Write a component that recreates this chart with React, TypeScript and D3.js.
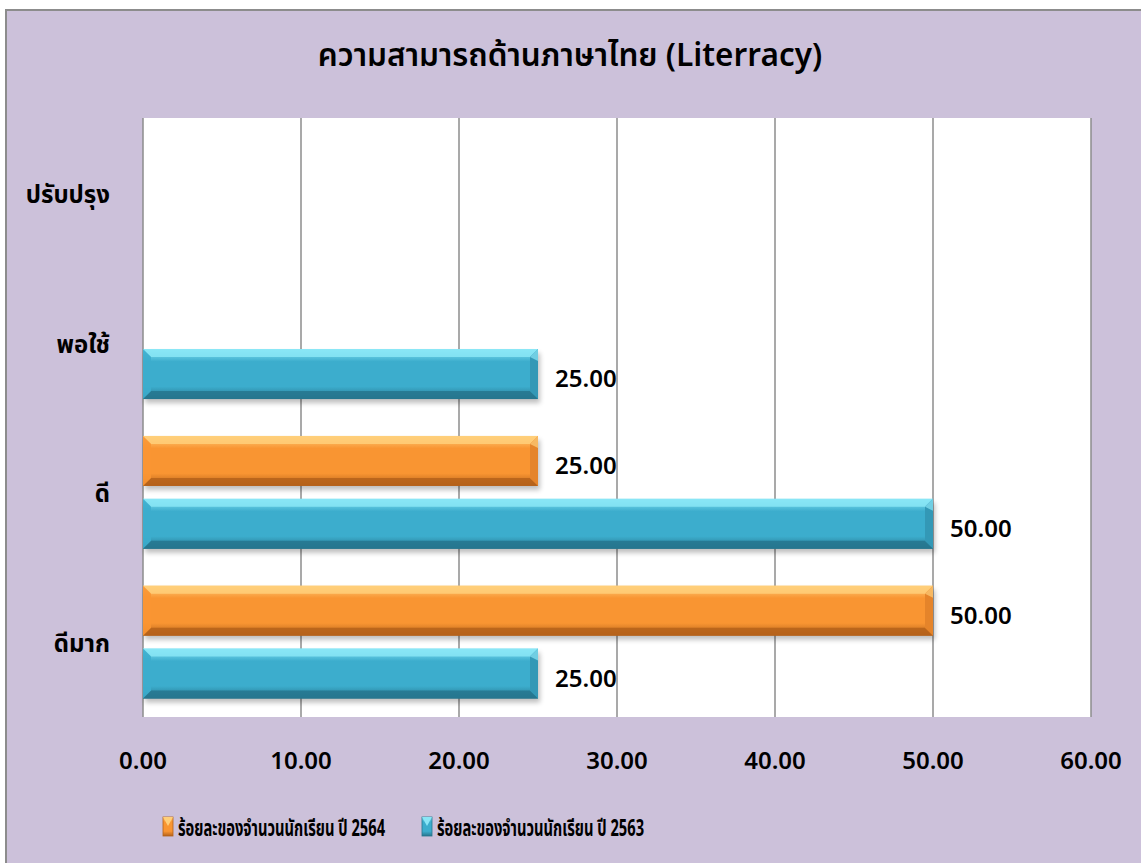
import React, { useLayoutEffect, useRef, useState } from "react";
import { scaleLinear, scaleBand } from "d3";

const title = "ความสามารถด้านภาษาไทย (Literracy)";
const categories = ["ปรับปรุง", "พอใช้", "ดี", "ดีมาก"];
const seriesNames = ["ร้อยละของจำนวนนักเรียน ปี 2564", "ร้อยละของจำนวนนักเรียน ปี 2563"];
const values2564: (number | null)[] = [null, null, 25, 50];
const values2563: (number | null)[] = [null, 25, 50, 25];
const xTicks = [0, 10, 20, 30, 40, 50, 60];

const W = 1141;
const H = 863;
const FONT = "Tahoma, 'Noto Sans Thai', 'Leelawadee UI', 'DejaVu Sans', sans-serif";
const LEGEND_TEXT_W = 207;

const palette = [
  { light: "#ffcf7a", base: "#f99532", dark: "#b5621a", cap: "#e5842a", id: "org" },
  { light: "#8ae6f6", base: "#3cadcd", dark: "#26768e", cap: "#3398b6", id: "blu" },
];

const App = () => {
  const plot = { left: 143, right: 1091, top: 118, bottom: 717 };
  const legendRefs = useRef<(SVGTextElement | null)[]>([]);
  const [legendScale, setLegendScale] = useState<number[]>([0.64, 0.64]);

  useLayoutEffect(() => {
    const s = legendRefs.current.map((el) => {
      if (!el) return 0.64;
      const w = el.getComputedTextLength();
      return w > 0 ? LEGEND_TEXT_W / w : 0.64;
    });
    setLegendScale(s);
  }, []);

  const xScale = scaleLinear().domain([0, 60]).range([plot.left, plot.right]);
  const yScale = scaleBand<string>().domain(categories).range([plot.top, plot.bottom]);
  const inner = scaleBand<number>()
    .domain([0, 1])
    .range([0, yScale.bandwidth()])
    .paddingInner(0.206)
    .paddingOuter(0.293);

  const series = [values2564, values2563];
  const bev = 8;

  const bars = series.flatMap((vals, si) =>
    vals.map((v, ci) => {
      if (v == null) return null;
      const c = palette[si];
      const x0 = xScale(0);
      const x1 = xScale(v);
      const y0 = (yScale(categories[ci]) ?? 0) + (inner(si) ?? 0);
      const h = inner.bandwidth();
      const y1 = y0 + h;
      return (
        <g key={`${si}-${ci}`}>
          <rect x={x0 + 2} y={y0 + 4} width={x1 - x0} height={h} fill="#000" opacity={0.25} filter="url(#shadow)" />
          <rect x={x0} y={y0} width={x1 - x0} height={h} fill={`url(#grad-${c.id})`} />
          <polygon points={`${x0},${y0} ${x1},${y0} ${x1 - bev},${y0 + bev} ${x0 + bev},${y0 + bev}`} fill={c.light} opacity={0.85} />
          <polygon points={`${x0},${y1} ${x1},${y1} ${x1 - bev},${y1 - bev} ${x0 + bev},${y1 - bev}`} fill={c.dark} opacity={0.85} />
          <polygon points={`${x1},${y0} ${x1},${y1} ${x1 - bev},${y1 - bev} ${x1 - bev},${y0 + bev}`} fill={c.cap} />
          <polygon points={`${x1},${y0} ${x1 - bev},${y0 + bev} ${x1},${y0 + bev + 4}`} fill={c.light} opacity={0.7} />
          <polygon points={`${x0},${y0} ${x0},${y1} ${x0 + bev},${y1 - bev} ${x0 + bev},${y0 + bev}`} fill={c.base} opacity={0.9} />
          <text x={x1 + 17} y={y0 + h / 2 + 13} fontSize={24} fontWeight={600} fill="#000" fontFamily={FONT}>
            {v.toFixed(2)}
          </text>
        </g>
      );
    })
  );

  const gridlines = xTicks.map((t) => (
    <g key={t}>
      <line x1={xScale(t)} x2={xScale(t)} y1={plot.top} y2={plot.bottom} stroke="#8c8c8c" strokeWidth={1.5} />
      <text x={xScale(t)} y={769} textAnchor="middle" fontSize={24} fontWeight={600} fontFamily={FONT} fill="#000">
        {t.toFixed(2)}
      </text>
    </g>
  ));

  const catLabels = categories.map((c) => (
    <text
      key={c}
      x={110}
      y={(yScale(c) ?? 0) + yScale.bandwidth() / 2 + 10}
      textAnchor="end"
      fontSize={24}
      fontWeight="bold"
      fontFamily={FONT}
      fill="#000"
    >
      {c}
    </text>
  ));

  const legendX = [163, 422];
  const legend = seriesNames.map((name, i) => (
    <g key={name}>
      <rect x={legendX[i]} y={817} width={10} height={19} fill={`url(#grad-${palette[i].id})`} stroke={palette[i].dark} strokeWidth={0.8} />
      <polygon
        points={`${legendX[i]},${817} ${legendX[i] + 10},${817} ${legendX[i] + 5},${826}`}
        fill={palette[i].light}
      />
      <text
        ref={(el) => {
          legendRefs.current[i] = el;
        }}
        transform={`translate(${legendX[i] + 15},836) scale(${legendScale[i]},1)`}
        fontSize={23}
        fontWeight="bold"
        fontFamily={FONT}
        fill="#000"
      >
        {name}
      </text>
    </g>
  ));

  return (
    <svg width={W} height={H} style={{ position: "absolute", left: 0, top: 0 }}>
      <defs>
        {palette.map((c) => (
          <linearGradient key={c.id} id={`grad-${c.id}`} x1="0" y1="0" x2="0" y2="1">
            <stop offset="0" stopColor={c.light} />
            <stop offset="0.25" stopColor={c.base} />
            <stop offset="0.75" stopColor={c.base} />
            <stop offset="1" stopColor={c.dark} />
          </linearGradient>
        ))}
        <filter id="shadow" x="-5%" y="-30%" width="110%" height="160%">
          <feGaussianBlur stdDeviation={2.5} />
        </filter>
      </defs>
      <rect x={6} y={10} width={W} height={H} fill="#ccc1da" stroke="#8c8c8c" strokeWidth={2} />
      <rect x={plot.left} y={plot.top} width={plot.right - plot.left} height={plot.bottom - plot.top} fill="#fff" />
      {gridlines}
      {bars}
      {catLabels}
      <text x={570} y={66} textAnchor="middle" fontSize={31.5} fontWeight={600} fontFamily={FONT} fill="#000">
        {title}
      </text>
      {legend}
    </svg>
  );
};

export default App;
